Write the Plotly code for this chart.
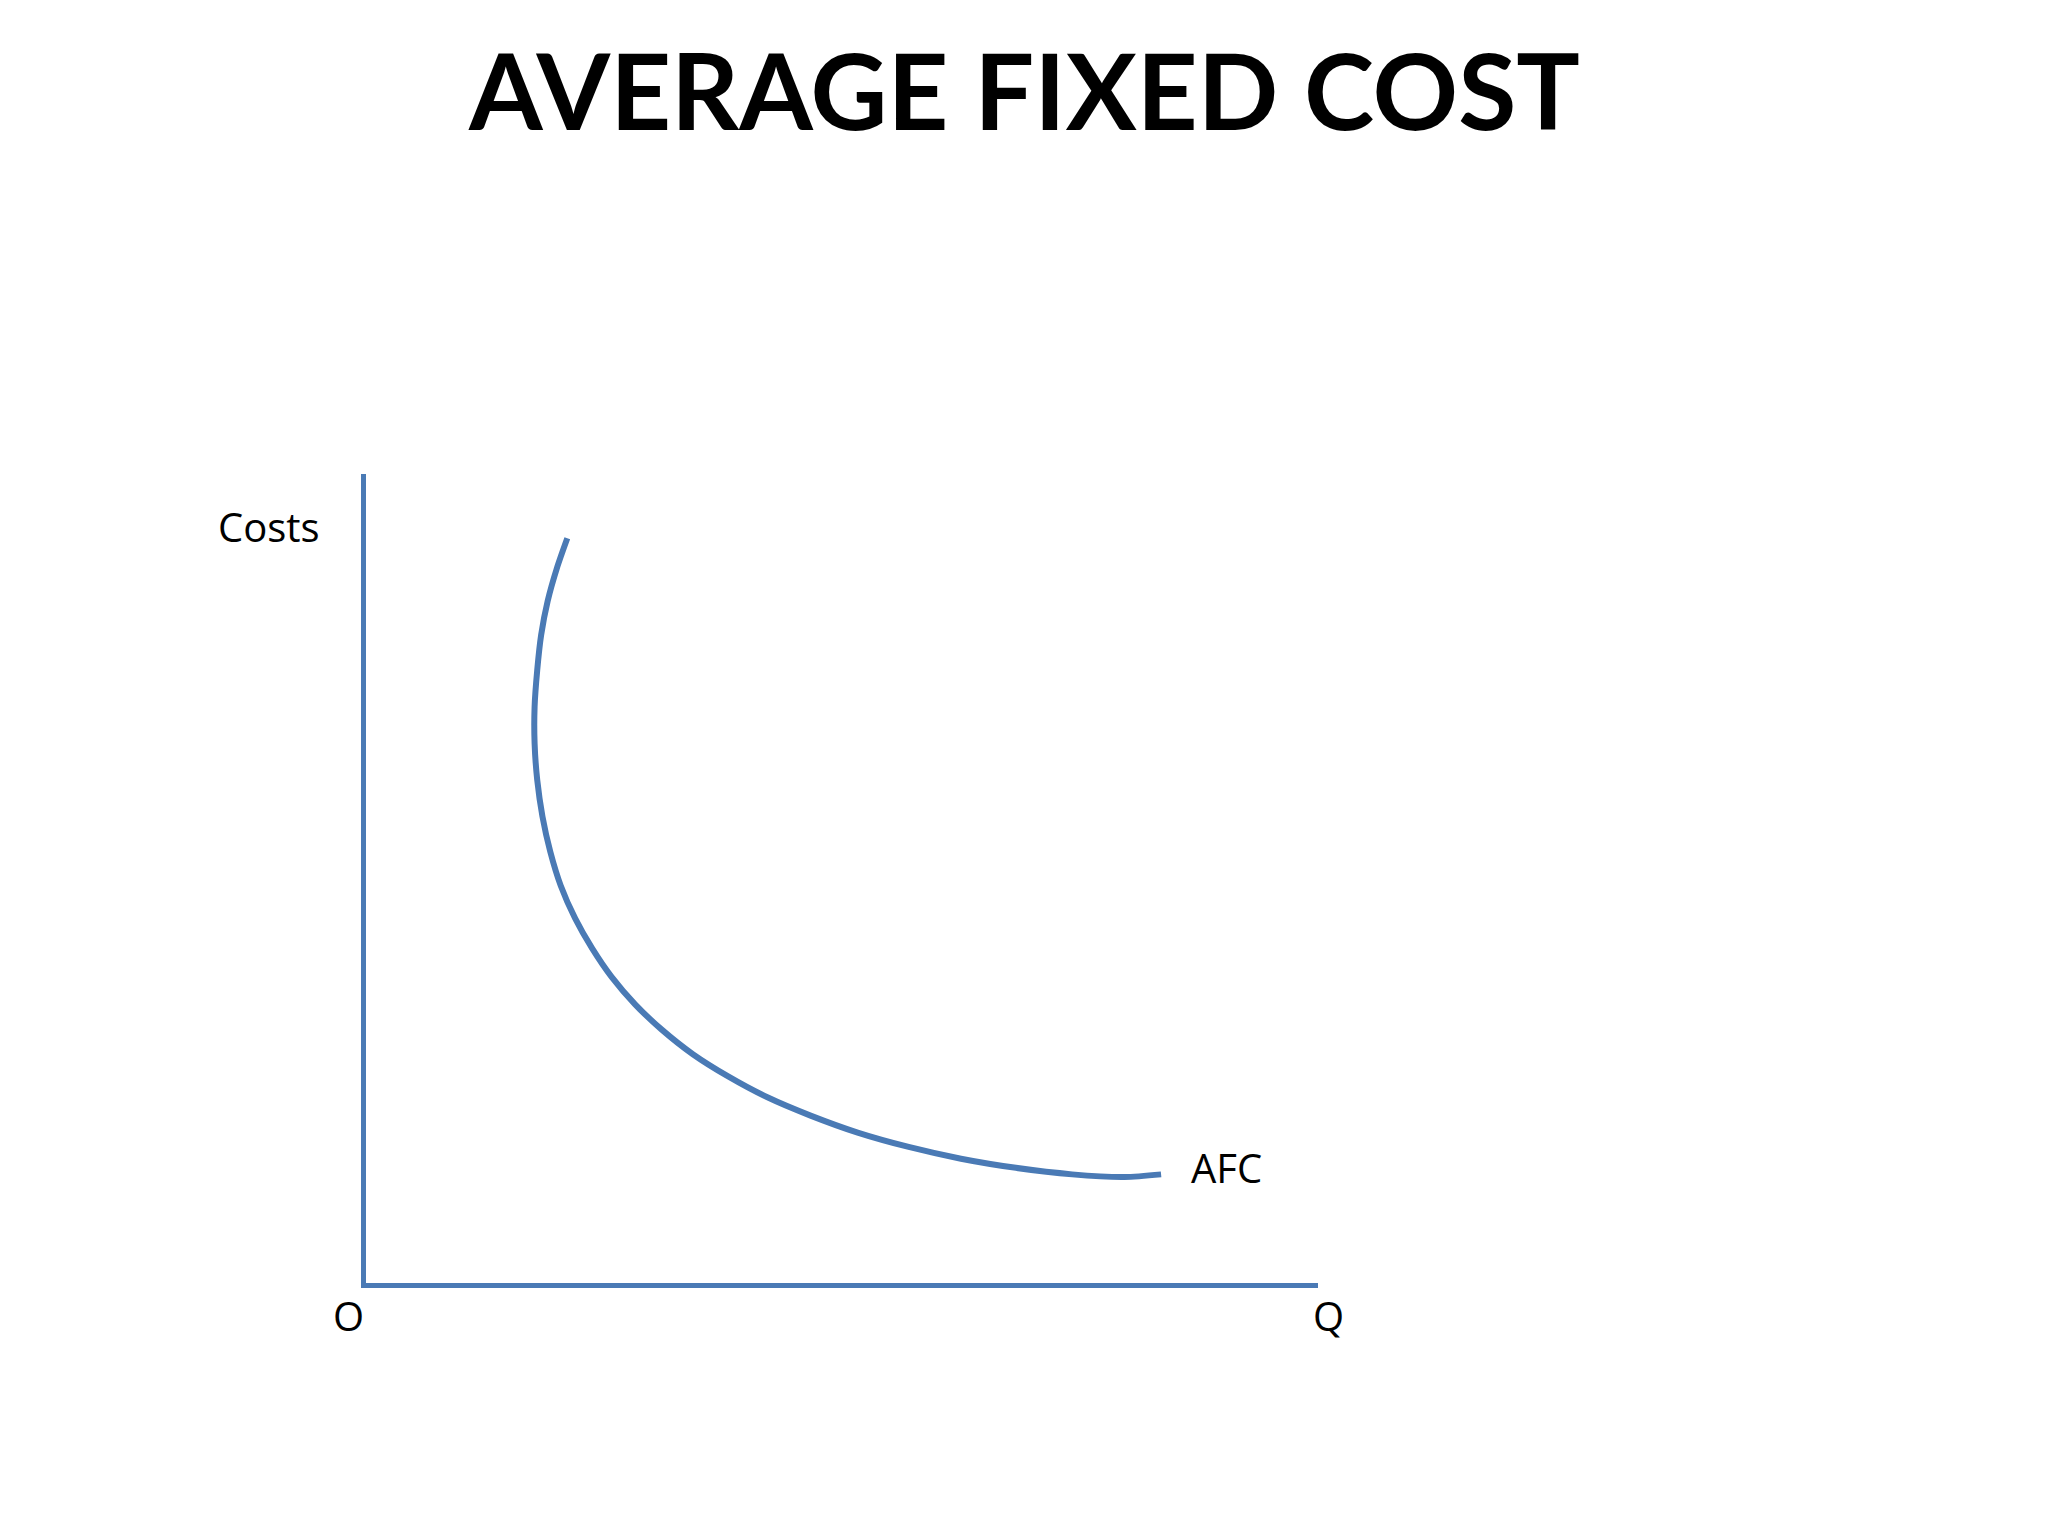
import plotly.graph_objects as go

# AFC curve (quantity, cost) in chart units
afc_q = [154, 146, 139, 134, 131, 129, 129, 131, 135, 141, 149, 160, 173, 188, 206, 226,
         250, 277, 307, 340, 376, 415, 455, 497, 540, 580, 608]
afc_c = [570, 547, 522, 496, 469, 441, 413, 385, 357, 330, 304, 279, 256, 234, 213, 194,
         175, 158, 142, 128, 115, 104, 95, 88, 83, 81, 83]

blue = "#4a7ab5"
fig = go.Figure()
fig.add_trace(go.Scatter(x=afc_q, y=afc_c, mode="lines",
                         line=dict(color=blue, width=6, shape="spline", smoothing=0.8),
                         showlegend=False, hoverinfo="skip"))

ax = dict(showgrid=False, zeroline=False, showticklabels=False, ticks="",
          showline=True, linecolor=blue, linewidth=5)
fig.update_xaxes(range=[0, 728], domain=[274/1568, 1003/1568], **ax)
fig.update_yaxes(range=[0, 619], domain=[200/1176, 819/1176], **ax)

lab = dict(family="Open Sans", size=40, color="black")
labels = [("Costs", 200, 397), ("O", 261, 1001), ("Q", 1011, 1001), ("AFC", 933, 888)]
for txt, px_, py_ in labels:
    fig.add_annotation(text=txt, x=px_/1568, y=1-py_/1176, xref="paper", yref="paper",
                       xanchor="center", yanchor="middle", showarrow=False, font=lab)
fig.add_annotation(text="<b>AVERAGE FIXED COST</b>", x=778/1568, y=1-62/1176,
                   xref="paper", yref="paper", xanchor="center", yanchor="middle",
                   showarrow=False, font=dict(family="Lato", size=106, color="black"))

fig.update_layout(width=2048, height=1536, margin=dict(l=0, r=0, t=0, b=0),
                  plot_bgcolor="white", paper_bgcolor="white")
fig.write_html("out.html")
